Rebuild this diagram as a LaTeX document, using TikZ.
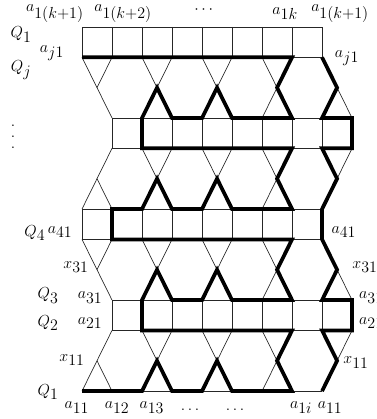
\documentclass[tikz,border=0pt]{standalone}
\usepackage{amsmath, amssymb}
\usepackage{tikz}
\usetikzlibrary{positioning}
\DeclareMathSizes{12}{13}{11.5}{9}
\newcommand{\tallvdots}{\vbox{\baselineskip=8pt\lineskiplimit=0pt\hbox{.}\hbox{.}\hbox{.}}}

\begin{document}
\begin{tikzpicture}[
    x=22.5pt, y=-22.75pt,
    grid line/.style={line width=0.5pt, draw=black!85},
    walk line/.style={line width=2.8pt, line join=miter, draw=black},
    lbl/.style={inner sep=0pt, font=\large},
]
\useasboundingbox (-2.733,-0.89) rectangle (9.8,12.92);

% rows of squares
\foreach \y/\s in {0/0, 3/1, 6/0, 9/1} {
    \draw[grid line] (\s,\y) rectangle (\s+8,\y+1);
    \foreach \x in {1,...,7}
        \draw[grid line] (\s+\x,\y) -- (\s+\x,\y+1);
}
\draw[grid line] (0,12) -- (8,12);

% crossings, rows shifted right below
\foreach \t in {1,7} {
    \foreach \c in {2.5,4.5,6.5} {
        \draw[grid line] (\c-0.5,\t) -- (\c+0.5,\t+2);
        \draw[grid line] (\c+0.5,\t) -- (\c-0.5,\t+2);
    }
    \draw[grid line] (0,\t) -- (1,\t+2);
    \draw[grid line] (1,\t) -- (0.5,\t+1);
    \draw[grid line] (8,\t) -- (9,\t+2);
    \draw[grid line] (8.5,\t+1) -- (8,\t+2);
}
% crossings, rows shifted left below
\foreach \t in {4,10} {
    \foreach \c in {2.5,4.5,6.5} {
        \draw[grid line] (\c-0.5,\t) -- (\c+0.5,\t+2);
        \draw[grid line] (\c+0.5,\t) -- (\c-0.5,\t+2);
    }
    \draw[grid line] (1,\t) -- (0,\t+2);
    \draw[grid line] (0.5,\t+1) -- (1,\t+2);
    \draw[grid line] (9,\t) -- (8,\t+2);
    \draw[grid line] (8,\t) -- (8.5,\t+1);
}

% thick walks
\draw[walk line] (0,1) -- (7,1) -- (6.5,2) -- (7,3) -- (5,3) -- (4.5,2) -- (4,3)
    -- (3,3) -- (2.5,2) -- (2,3) -- (2,4) -- (7,4) -- (6.5,5) -- (7,6) -- (5,6)
    -- (4.5,5) -- (4,6) -- (3,6) -- (2.5,5) -- (2,6) -- (1,6) -- (1,7) -- (7,7)
    -- (6.5,8) -- (7,9) -- (5,9) -- (4.5,8) -- (4,9) -- (3,9) -- (2.5,8) -- (2,9)
    -- (2,10) -- (7,10) -- (6.5,11) -- (7,12) -- (5,12) -- (4.5,11) -- (4,12)
    -- (3,12) -- (2.5,11) -- (2,12) -- (0,12);
\draw[walk line] (8,1) -- (8.5,2) -- (8,3) -- (9,3) -- (9,4) -- (8,4) -- (8.5,5)
    -- (8,6) -- (8,7) -- (8.5,8) -- (8,9) -- (9,9) -- (9,10) -- (8,10)
    -- (8.5,11) -- (8,12);

% top labels
\node[lbl] (top1) at (-0.9,-0.44) {$a_{1(k+1)}$};
\node[lbl] (top2) at (1.37,-0.44) {$a_{1(k+2)}$};
\node[lbl] (topdots) at (4.1,-0.57) {$\cdots$};
\node[lbl] (topk) at (6.77,-0.44) {$a_{1k}$};
\node[lbl] (topr) at (8.6,-0.44) {$a_{1(k+1)}$};

% left labels
\node[lbl] (q1top) at (-2.03,0.26) {$Q_1$};
\node[lbl] (ajl) at (-1.0,0.86) {$a_{j1}$};
\node[lbl] (qj) at (-2.03,1.42) {$Q_j$};
\node[lbl] (vdots) at (-2.3,3.62) {\tallvdots};
\node[lbl] (q4) at (-1.57,6.79) {$Q_4$};
\node[lbl] (a41l) at (-0.73,6.76) {$a_{41}$};
\node[lbl] (x31l) at (-0.2,7.91) {$x_{31}$};
\node[lbl] (q3) at (-1.13,8.84) {$Q_3$};
\node[lbl] (a31l) at (0.27,8.93) {$a_{31}$};
\node[lbl] (q2) at (-1.13,9.76) {$Q_2$};
\node[lbl] (a21l) at (0.27,9.76) {$a_{21}$};
\node[lbl] (x11l) at (-0.33,10.98) {$x_{11}$};
\node[lbl] (q1bot) at (-1.13,12.03) {$Q_1$};

% bottom labels
\node[lbl] (b11) at (-0.17,12.53) {$a_{11}$};
\node[lbl] (b12) at (1.17,12.55) {$a_{12}$};
\node[lbl] (b13) at (2.33,12.55) {$a_{13}$};
\node[lbl] (bdots1) at (3.6,12.62) {$\ldots$};
\node[lbl] (bdots2) at (5.1,12.62) {$\ldots$};
\node[lbl] (b1i) at (7.3,12.53) {$a_{1i}$};
\node[lbl] (b11r) at (8.27,12.53) {$a_{11}$};

% right labels
\node[lbl] (ajr) at (8.83,1.02) {$a_{j1}$};
\node[lbl] (a41r) at (8.73,6.76) {$a_{41}$};
\node[lbl, anchor=west] (x31r) at (9.0,7.91) {$x_{31}$};
\node[lbl, anchor=west] (a31r) at (9.23,8.93) {$a_{31}$};
\node[lbl, anchor=west] (a21r) at (9.23,9.76) {$a_{21}$};
\node[lbl] (x11r) at (9.13,11.05) {$x_{11}$};
\end{tikzpicture}
\end{document}
